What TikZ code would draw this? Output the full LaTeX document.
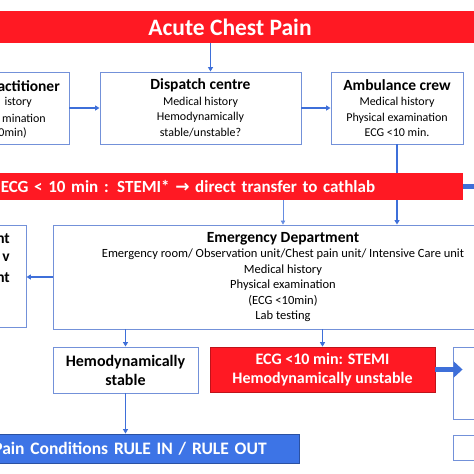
\documentclass[tikz,border=0pt]{standalone}
\usepackage{fontspec}
\setmainfont{Carlito}
\newfontfamily\arrowfont{DejaVu Sans}
\usepackage{xcolor}
\usepackage{tikz}
\usetikzlibrary{arrows.meta,positioning,calc}
\definecolor{acpred}{HTML}{FF1923}
\definecolor{linkblue}{HTML}{3E6FD9}
\definecolor{boxblue}{HTML}{7391D9}
\definecolor{barblue}{HTML}{3D74E6}
\newcommand{\boxtitle}[1]{{\fontsize{15.5}{18}\selectfont\bfseries #1}}

\begin{document}
\begin{tikzpicture}[x=1pt, y=-1pt,
  box/.style={draw=boxblue, line width=0.9pt, fill=white, inner sep=0pt,
    align=center, font=\fontsize{12}{15.5}\selectfont},
  frag/.style={anchor=east, inner sep=0pt, font=\fontsize{15.5}{18}\selectfont\bfseries},
  fragsm/.style={anchor=east, inner sep=0pt, font=\fontsize{12}{15.5}\selectfont},
  redbar/.style={fill=acpred, text=white, inner ysep=0pt,
    font=\fontsize{17}{20}\selectfont\bfseries},
  arr/.style={-{Triangle[length=4.5pt, width=5pt]}, line width=1.4pt, draw=linkblue},
  thinarr/.style={-{Triangle[length=4pt, width=4.5pt]}, line width=0.8pt, draw=linkblue!80},
  fatarr/.style={line width=5pt, draw=linkblue},
]
\useasboundingbox (0,0) rectangle (474,474);
\clip (0,0) rectangle (474,474);

% top row
\node[redbar, minimum width=520pt, minimum height=32pt, font=\fontsize{23.5}{26}\selectfont\bfseries] (acp) at (230,27) {Acute Chest Pain};
\node[box, minimum width=158pt, minimum height=72pt] (prac) at (-10,108) {};
\node[frag] (prac1) at (60,86) {actitioner};
\node[fragsm] (prac2) at (32,102) {istory};
\node[fragsm] (prac3) at (46,118) {mination};
\node[fragsm] (prac4) at (27,133) {0min)};
\node[box, minimum width=201pt, minimum height=72pt] (disp) at (200.5,108)
  {\boxtitle{Dispatch centre}\\Medical history\\Hemodynamically\\stable/unstable?};
\node[box, minimum width=132pt, minimum height=72pt] (amb) at (397,108)
  {\boxtitle{Ambulance crew}\\Medical history\\Physical examination\\ECG <10 min.};
\draw[arr] ([xshift=10pt]disp.north |- acp.south) -- ([xshift=10pt]disp.north);
\draw[arr] (prac) -- (disp);
\draw[arr] (disp) -- (amb);

% emergency department
\node[box, minimum width=460pt, minimum height=104pt, font=\fontsize{12.5}{15.5}\selectfont] (ed) at (283,277)
  {\boxtitle{Emergency Department}\\Emergency room/ Observation unit/Chest pain unit/ Intensive Care unit\\Medical history\\Physical examination\\(ECG <10min)\\Lab testing};
\node[box, minimum width=126pt, minimum height=102pt] (lft) at (-37,276) {};
\node[frag] (lft1) at (10,239) {nt};
\node[frag] (lft2) at (10,258) {v};
\node[frag] (lft3) at (10,278) {nt};
\draw[arr] (amb.south) -- (amb.south |- ed.north);

% direct transfer bar
\node[redbar, anchor=east, inner xsep=1pt, text width=461pt, align=left, minimum height=27pt] (stemi) at (463,186.5)
  {ECG < 10 min : STEMI* {\arrowfont\bfseries →} direct transfer to cathlab};
\coordinate (cath) at (480,186.5);
\draw[fatarr] (stemi.east) -- (cath);
\draw[thinarr] (stemi.south -| ed.north) -- (ed.north);
\draw[arr] (ed.west) -- (ed.west -| lft.east);

% bottom row
\node[box, minimum width=145pt, minimum height=46pt, font=\fontsize{16}{19}\selectfont\bfseries] (stab) at (125.5,370)
  {Hemodynamically\\stable};
\node[draw=acpred!75!black, line width=0.6pt, fill=acpred, text=white, inner sep=0pt, align=center,
  minimum width=225pt, minimum height=45pt, font=\fontsize{16}{19}\selectfont\bfseries] (unst) at (322.5,369.5)
  {ECG <10 min: STEMI\\Hemodynamically unstable};
\node[box, minimum width=90pt, minimum height=72pt] (rb1) at (498,383) {};
\node[box, minimum width=90pt, minimum height=25pt] (rb2) at (498,447.5) {};
\node[draw=barblue!70!black, line width=0.8pt, fill=barblue, text=white, anchor=east, inner xsep=33pt, inner ysep=0pt,
  text width=334pt, align=right, minimum height=29pt, font=\fontsize{17.5}{20}\selectfont\bfseries] (rule) at (300,448.5)
  {Pain Conditions RULE IN / RULE OUT};
\draw[arr] (stab.north |- ed.south) -- (stab.north);
\draw[arr] (unst.north |- ed.south) -- (unst.north);
\draw[arr] (stab.south) -- (stab.south |- rule.north);
\draw[fatarr, -{Triangle[length=9pt, width=16pt]}, shorten >=-10pt] (unst.east) -- (unst.east -| rb1.west);
\end{tikzpicture}
\end{document}
